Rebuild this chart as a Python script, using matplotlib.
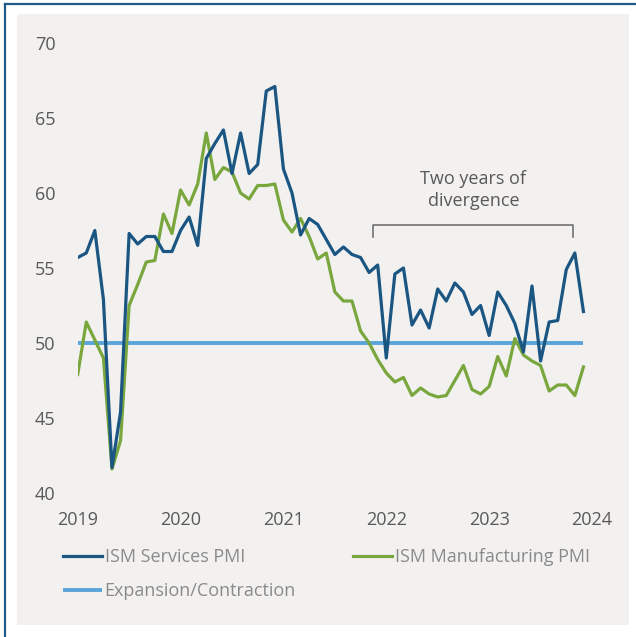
import matplotlib
matplotlib.use("Agg")
import matplotlib.pyplot as plt
from matplotlib.patches import Rectangle
from matplotlib.lines import Line2D
import numpy as np

plt.rcParams['font.family'] = ['Open Sans', 'DejaVu Sans']

# Monthly readings, labelled on the chart's axis as Jan 2019 .. Dec 2023
services = [55.7, 56.0, 57.5, 52.9, 41.7, 45.4, 57.3, 56.6, 57.1, 57.1,
            56.1, 56.1, 57.5, 58.4, 56.5, 62.3, 63.3, 64.2, 61.3, 64.0,
            61.3, 61.9, 66.8, 67.1, 61.6, 60.0, 57.2, 58.3, 57.9, 56.9,
            55.9, 56.4, 55.9, 55.7, 54.7, 55.2, 49.0, 54.6, 55.0, 51.2,
            52.2, 51.0, 53.6, 52.8, 54.0, 53.4, 51.9, 52.5, 50.5, 53.4,
            52.5, 51.3, 49.4, 53.8, 48.8, 51.4, 51.5, 54.9, 56.0, 52.1]
manufacturing = [47.9, 51.4, 50.2, 49.0, 41.6, 43.5, 52.5, 53.9, 55.4, 55.5,
                 58.6, 57.3, 60.2, 59.2, 60.6, 64.0, 60.9, 61.7, 61.4, 60.0,
                 59.6, 60.5, 60.5, 60.6, 58.2, 57.4, 58.3, 57.1, 55.6, 56.0,
                 53.4, 52.8, 52.8, 50.8, 50.0, 48.9, 48.0, 47.4, 47.7, 46.5,
                 47.0, 46.6, 46.4, 46.5, 47.5, 48.5, 46.9, 46.6, 47.1, 49.1,
                 47.8, 50.3, 49.2, 48.8, 48.5, 46.8, 47.2, 47.2, 46.5, 48.4]
threshold = 50
start_year = 2019
year_ticks = [2019, 2020, 2021, 2022, 2023, 2024]
y_ticks = [40, 45, 50, 55, 60, 65, 70]

x = start_year + np.arange(len(services)) / 12.0

W, H = 636, 637
fig = plt.figure(figsize=(W / 100, H / 100), dpi=100, facecolor='white')

# Background panel and frame
fig.patches.append(Rectangle((17 / W, 1 - 625 / H), (629 - 17) / W, (625 - 14) / H,
                             transform=fig.transFigure, facecolor='#f2f1f0',
                             edgecolor='none', zorder=-10))
fig.lines.append(Line2D([4.5 / W, 4.5 / W], [0, 1 - 4 / H], transform=fig.transFigure,
                        color='#1f5a86', lw=1.6, zorder=-5))
fig.lines.append(Line2D([4.5 / W, 1], [1 - 4 / H, 1 - 4 / H], transform=fig.transFigure,
                        color='#1f5a86', lw=1.6, zorder=-5))

left_px, right_px = 77.7, 592.0
top_px, bot_px = 43.0, 493.0
ax = fig.add_axes([left_px / W, 1 - bot_px / H, (right_px - left_px) / W, (bot_px - top_px) / H])
ax.set_facecolor('none')
ax.set_zorder(1)

ax.plot(x, [threshold] * len(x), color='#5aa4d9', lw=2.8, solid_capstyle='butt',
        label='Expansion/Contraction', zorder=2)
ax.plot(x, manufacturing, color='#79a73d', lw=2.3, label='ISM Manufacturing PMI', zorder=3)
ax.plot(x, services, color='#1b5683', lw=2.3, label='ISM Services PMI', zorder=4)

ax.set_xlim(2019, 2024)
ax.set_ylim(40, 70)
ax.set_xticks(year_ticks)
ax.set_xticklabels([str(t) for t in year_ticks])
ax.set_yticks(y_ticks)
ax.set_yticklabels([str(t) for t in y_ticks])
for s in ax.spines.values():
    s.set_visible(False)
ax.tick_params(axis='both', length=0, labelsize=13, labelcolor='#595959')
ax.tick_params(axis='y', pad=16)
ax.tick_params(axis='x', pad=13)
for lbl in ax.get_yticklabels():
    lbl.set_horizontalalignment('right')

# Annotation bracket
bx0, bx1 = 2021.875, 2023.82
by_top, by_bot = 57.87, 57.09
ax.plot([bx0, bx0, bx1, bx1], [by_bot, by_top, by_top, by_bot], color='#666666', lw=1.1, zorder=5)
ax.text((bx0 + bx1) / 2, 60.2, 'Two years of\ndivergence', ha='center', va='center',
        fontsize=13, color='#595959', linespacing=1.25)

# Legend (manual layout)
handles = {h.get_label(): h for h in ax.get_lines() if not h.get_label().startswith('_')}
leg1 = fig.legend([handles['ISM Services PMI'], handles['ISM Manufacturing PMI']],
                  ['ISM Services PMI', 'ISM Manufacturing PMI'], ncol=2,
                  loc='center left', bbox_to_anchor=(63 / W, 1 - 557.5 / H),
                  frameon=False, fontsize=13, handlelength=2.15, handletextpad=0.15,
                  columnspacing=6.0, borderpad=0, borderaxespad=0)
for t in leg1.get_texts():
    t.set_color('#8a8a8a')
leg2 = fig.legend([handles['Expansion/Contraction']], ['Expansion/Contraction'],
                  loc='center left', bbox_to_anchor=(63 / W, 1 - 591.5 / H),
                  frameon=False, fontsize=13, handlelength=2.15, handletextpad=0.15,
                  borderpad=0, borderaxespad=0)
for t in leg2.get_texts():
    t.set_color('#8a8a8a')

fig.savefig('out.png', dpi=100, facecolor='white')
